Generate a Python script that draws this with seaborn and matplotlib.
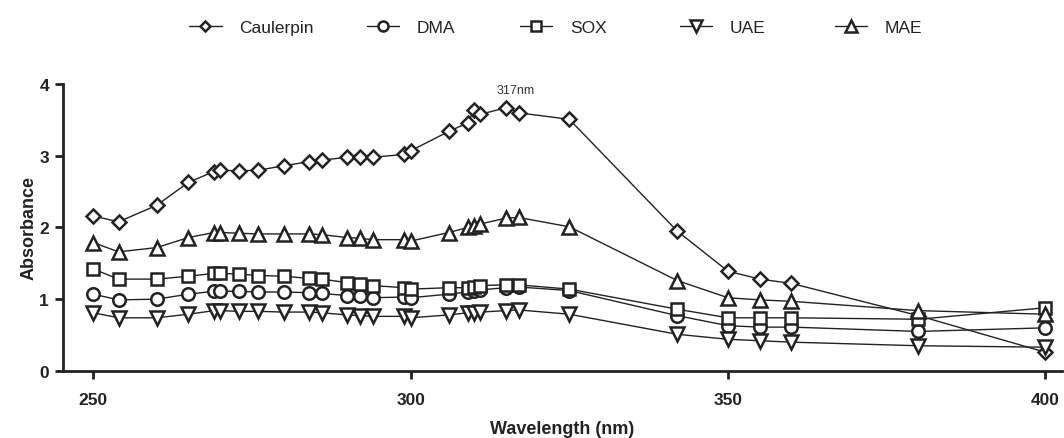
import numpy as np
import pandas as pd
import matplotlib
matplotlib.use('Agg')
import matplotlib.pyplot as plt
import seaborn as sns

sns.set_style('ticks')
plt.rcParams['font.family'] = ['Liberation Sans', 'DejaVu Sans']

# Wavelengths (nm)
wavelength = [250, 254, 260, 265, 269, 270, 273, 276, 280, 284, 286, 290, 292, 294,
              299, 300, 306, 309, 310, 311, 315, 317, 325, 342, 350, 355, 360, 380, 400]

# Absorbance per extract
caulerpin = [2.16, 2.08, 2.31, 2.63, 2.78, 2.80, 2.79, 2.80, 2.86, 2.92, 2.94, 2.98, 2.98, 2.98,
             3.02, 3.07, 3.34, 3.46, 3.64, 3.58, 3.67, 3.60, 3.51, 1.95, 1.39, 1.28, 1.22, 0.77, 0.26]
dma = [1.07, 0.99, 1.00, 1.07, 1.11, 1.11, 1.11, 1.10, 1.10, 1.09, 1.08, 1.05, 1.04, 1.02,
       1.03, 1.02, 1.07, 1.10, 1.12, 1.13, 1.16, 1.17, 1.12, 0.77, 0.63, 0.61, 0.61, 0.55, 0.60]
sox = [1.42, 1.28, 1.28, 1.32, 1.36, 1.36, 1.35, 1.33, 1.32, 1.29, 1.28, 1.23, 1.21, 1.19,
       1.16, 1.14, 1.16, 1.16, 1.17, 1.19, 1.20, 1.20, 1.14, 0.86, 0.74, 0.74, 0.74, 0.72, 0.88]
uae = [0.81, 0.74, 0.74, 0.79, 0.84, 0.84, 0.83, 0.83, 0.82, 0.82, 0.81, 0.78, 0.77, 0.76,
       0.76, 0.74, 0.78, 0.81, 0.81, 0.82, 0.84, 0.85, 0.79, 0.51, 0.44, 0.42, 0.40, 0.35, 0.33]
mae = [1.79, 1.66, 1.72, 1.86, 1.93, 1.93, 1.92, 1.91, 1.91, 1.91, 1.90, 1.86, 1.85, 1.83,
       1.83, 1.81, 1.93, 2.00, 2.02, 2.05, 2.13, 2.14, 2.01, 1.26, 1.02, 0.99, 0.97, 0.84, 0.79]

series = {'Caulerpin': caulerpin, 'DMA': dma, 'SOX': sox, 'UAE': uae, 'MAE': mae}
markers = {'Caulerpin': ('D', 7), 'DMA': ('o', 9), 'SOX': ('s', 9), 'UAE': ('v', 10), 'MAE': ('^', 10)}
# left edge of each legend entry (figure fraction)
legend_x = {'Caulerpin': 0.178, 'DMA': 0.345, 'SOX': 0.489, 'UAE': 0.639, 'MAE': 0.785}

ink = '#222222'
fig = plt.figure(figsize=(10.64, 4.39), dpi=100)
ax = fig.add_axes([0.059, 0.153, 0.939, 0.653])

for name, vals in series.items():
    m, ms = markers[name]
    sns.lineplot(x=wavelength, y=vals, ax=ax, color=ink, linewidth=1.0,
                 marker=m, markersize=ms, markerfacecolor='white',
                 markeredgecolor=ink, markeredgewidth=1.8, label=name)

ax.annotate('317nm', xy=(316.6, 3.92), ha='center', va='center', fontsize=9, color='#333333')

ax.set_xlim(245.2, 402.6)
ax.set_ylim(0, 4)
ax.set_xticks([250, 300, 350, 400])
ax.set_yticks([0, 1, 2, 3, 4])
ax.tick_params(axis='both', width=2, length=6, labelsize=12.5, colors=ink)
ax.tick_params(axis='x', pad=9)
ax.tick_params(axis='y', pad=4)
for lbl in ax.get_xticklabels() + ax.get_yticklabels():
    lbl.set_fontweight('bold')
for s in ['left', 'bottom']:
    ax.spines[s].set_linewidth(2)
    ax.spines[s].set_color(ink)
sns.despine(ax=ax)

ax.set_xlabel('Wavelength (nm)', fontsize=13, fontweight='bold', color=ink)
ax.set_ylabel('Absorbance', fontsize=13, fontweight='bold', color=ink)
ax.xaxis.set_label_coords(0.5, -0.172)
ax.yaxis.set_label_coords(-0.025, 0.5)

handles, labels = ax.get_legend_handles_labels()
ax.get_legend().remove()
for h, l in zip(handles, labels):
    leg = fig.legend([h], [l], loc='center left', bbox_to_anchor=(legend_x[l], 0.936),
                     frameon=False, fontsize=12.5, handlelength=1.85, handletextpad=1.0,
                     borderpad=0, borderaxespad=0, markerscale=0.8)
    for t in leg.get_texts():
        t.set_color(ink)

fig.savefig('out.png', dpi=100)
